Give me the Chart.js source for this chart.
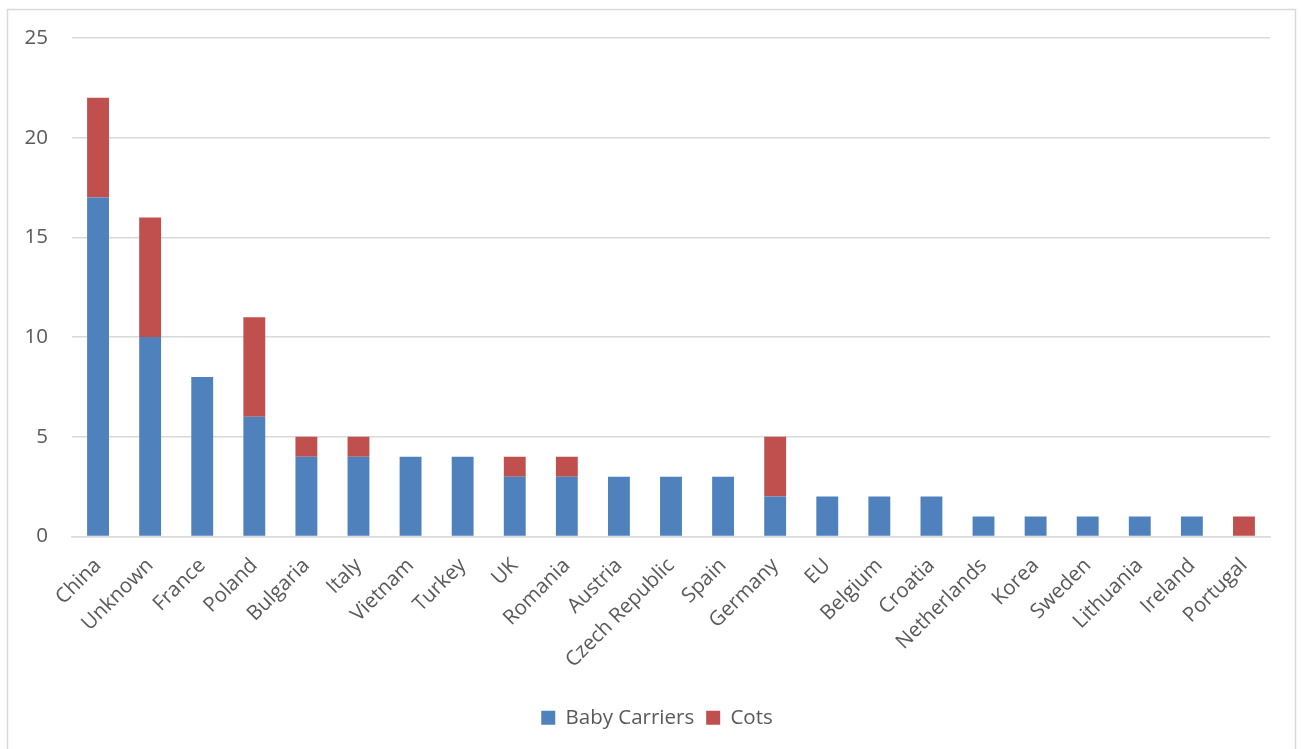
<!DOCTYPE html>
<html>
<head>
<meta charset="utf-8">
<script src="https://cdn.jsdelivr.net/npm/chart.js@4"></script>
<style>
  html, body { margin: 0; padding: 0; background: #fff; }
  #wrap { width: 1301px; height: 749px; position: relative; }
</style>
</head>
<body>
<div id="wrap"><canvas id="chart" width="1301" height="749"></canvas></div>
<script>
const countries = ['China', 'Unknown', 'France', 'Poland', 'Bulgaria', 'Italy', 'Vietnam', 'Turkey', 'UK', 'Romania',
    'Austria', 'Czech Republic', 'Spain', 'Germany', 'EU', 'Belgium', 'Croatia', 'Netherlands', 'Korea', 'Sweden',
    'Lithuania', 'Ireland', 'Portugal'];
const babyCarriers = [17, 10, 8, 6, 4, 4, 4, 4, 3, 3, 3, 3, 3, 2, 2, 2, 2, 1, 1, 1, 1, 1, 0];
const cots = [5, 6, 0, 5, 1, 1, 0, 0, 1, 1, 0, 0, 0, 3, 0, 0, 0, 0, 0, 0, 0, 0, 1];
const yTicks = [0, 5, 10, 15, 20, 25];

const textColor = '#595959';
const gridColor = '#D9D9D9';
const fontFamily = '"Open Sans", "Noto Sans", sans-serif';

// light frame around the chart area, like the office export
const framePlugin = {
    id: 'frame',
    beforeDraw(chart) {
        const ctx = chart.ctx;
        ctx.save();
        ctx.fillStyle = '#fff';
        ctx.fillRect(0, 0, chart.width, chart.height);
        ctx.strokeStyle = '#D9D9D9';
        ctx.lineWidth = 1.5;
        ctx.strokeRect(7.5, 9.5, chart.width - 13, chart.height + 20);
        ctx.restore();
    }
};

// legend is centred on the whole canvas in the original, not on the padded area
const legendShift = {
    id: 'legendShift',
    afterLayout(chart) {
        if (chart.legend) {
            chart.legend.left += 22;
            chart.legend.right += 22;
        }
    }
};

new Chart(document.getElementById('chart').getContext('2d'), {
    type: 'bar',
    data: {
        labels: countries,
        datasets: [{
            label: 'Baby Carriers',
            data: babyCarriers,
            backgroundColor: '#4F81BD',
            borderWidth: 0
        }, {
            label: 'Cots',
            data: cots,
            backgroundColor: '#C0504D',
            borderWidth: 0
        }]
    },
    options: {
        responsive: false,
        animation: false,
        layout: { padding: { left: 0, top: 38, right: 31, bottom: 11 } },
        datasets: { bar: { categoryPercentage: 1, barPercentage: 0.42 } },
        plugins: {
            legend: {
                position: 'bottom',
                labels: {
                    color: textColor,
                    font: { family: fontFamily, size: 20.5 },
                    boxWidth: 14,
                    boxHeight: 14,
                    padding: 12
                }
            },
            tooltip: { enabled: false }
        },
        scales: {
            x: {
                stacked: true,
                grid: { display: false },
                border: { display: true, color: gridColor, width: 1.5 },
                ticks: {
                    color: textColor,
                    font: { family: fontFamily, size: 20.5 },
                    minRotation: 45,
                    maxRotation: 45,
                    autoSkip: false,
                    padding: 9
                },
                afterFit(scale) { scale.height = 159; }
            },
            y: {
                stacked: true,
                min: 0,
                max: 25,
                afterBuildTicks(scale) { scale.ticks = yTicks.map(v => ({ value: v })); },
                grid: { color: gridColor, lineWidth: 1.5, drawTicks: false },
                border: { display: false },
                ticks: {
                    color: textColor,
                    font: { family: fontFamily, size: 20.5 },
                    padding: 24
                },
                afterFit(scale) { scale.width = 72; }
            }
        }
    },
    plugins: [framePlugin, legendShift]
});
</script>
</body>
</html>
